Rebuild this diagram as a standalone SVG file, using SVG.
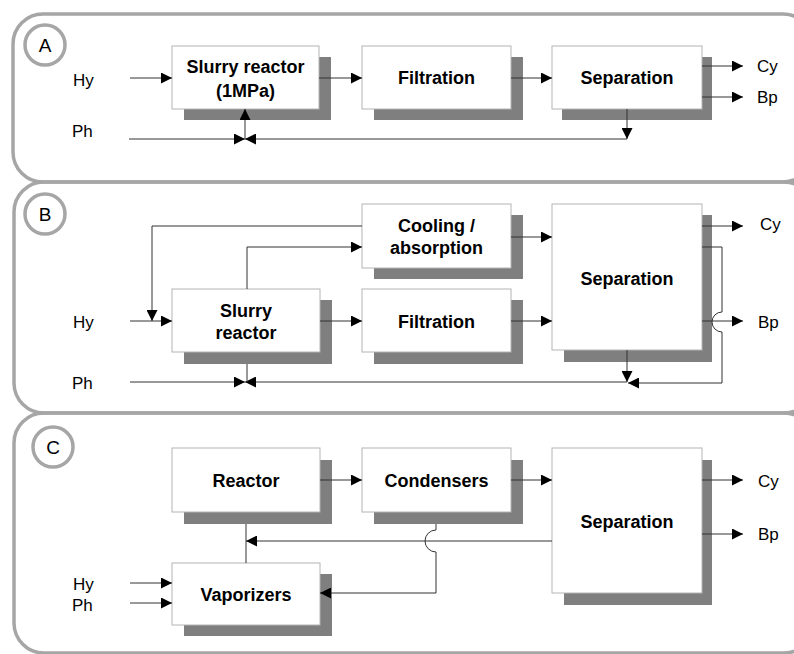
<svg xmlns="http://www.w3.org/2000/svg" width="794" height="654" viewBox="0 0 794 654">
<style>
.panel{fill:none;stroke:#a6a6a6;stroke-width:3.5}
.badge{fill:#fff;stroke:#a6a6a6;stroke-width:3.5}
.badge-t{font-family:"Liberation Sans",Arial,sans-serif;font-size:19px;fill:#000;text-anchor:middle}
.shadow{fill:#7f7f7f}
.box{fill:#fff;stroke:#b4b4b4;stroke-width:1}
.bt{font-family:"Liberation Sans",Arial,sans-serif;font-size:18px;font-weight:bold;fill:#000;text-anchor:middle}
.lbl{font-family:"Liberation Sans",Arial,sans-serif;font-size:17px;fill:#000}
.c{fill:none;stroke:#333;stroke-width:1}
.a{marker-end:url(#ah)}
</style>
<defs>
<marker id="ah" markerUnits="userSpaceOnUse" markerWidth="11" markerHeight="11" refX="11" refY="5.5" orient="auto" viewBox="0 0 11 11">
<path d="M0,0 L11,5.5 L0,11 z" fill="#000"/>
</marker>
</defs>
<rect width="794" height="654" fill="#fff"/>

<!-- panels -->
<g id="panelA"><rect class="panel" x="13" y="14" width="800" height="168" rx="30"/><circle class="badge" cx="45" cy="45" r="20"/><text class="badge-t" x="45" y="52">A</text></g>
<g id="panelB"><rect class="panel" x="14" y="182" width="800" height="231" rx="30"/><circle class="badge" cx="45" cy="214" r="20"/><text class="badge-t" x="45" y="221">B</text></g>
<g id="panelC"><rect class="panel" x="14" y="413" width="800" height="240" rx="30"/><circle class="badge" cx="53" cy="447" r="20"/><text class="badge-t" x="53" y="454">C</text></g>

<!-- Panel A nodes -->
<g id="A-slurry"><rect class="shadow" x="184" y="57" width="147" height="63"/><rect class="box" x="172" y="46" width="147" height="63"/><text class="bt" x="245.5" y="73">Slurry reactor</text><text class="bt" x="245.5" y="97">(1MPa)</text></g>
<g id="A-filtration"><rect class="shadow" x="374" y="57" width="149" height="63"/><rect class="box" x="362" y="46" width="149" height="63"/><text class="bt" x="436.5" y="84">Filtration</text></g>
<g id="A-separation"><rect class="shadow" x="562" y="57" width="150" height="63"/><rect class="box" x="552" y="46" width="150" height="63"/><text class="bt" x="627" y="84">Separation</text></g>

<!-- Panel B nodes -->
<g id="B-cooling"><rect class="shadow" x="374" y="215" width="149" height="64"/><rect class="box" x="362" y="204" width="149" height="64"/><text class="bt" x="436.5" y="232">Cooling /</text><text class="bt" x="436.5" y="254">absorption</text></g>
<g id="B-slurry"><rect class="shadow" x="184" y="300" width="148" height="64"/><rect class="box" x="172" y="289" width="148" height="63"/><text class="bt" x="246" y="317">Slurry</text><text class="bt" x="246" y="339">reactor</text></g>
<g id="B-filtration"><rect class="shadow" x="374" y="300" width="149" height="64"/><rect class="box" x="362" y="289" width="149" height="63"/><text class="bt" x="436.5" y="328">Filtration</text></g>
<g id="B-separation"><rect class="shadow" x="564" y="215" width="148" height="147"/><rect class="box" x="552" y="204" width="150" height="146"/><text class="bt" x="627" y="285">Separation</text></g>

<!-- Panel C nodes -->
<g id="C-reactor"><rect class="shadow" x="184" y="460" width="148" height="64"/><rect class="box" x="172" y="448" width="148" height="64"/><text class="bt" x="246" y="487">Reactor</text></g>
<g id="C-condensers"><rect class="shadow" x="374" y="460" width="149" height="64"/><rect class="box" x="362" y="448" width="149" height="64"/><text class="bt" x="436.5" y="487">Condensers</text></g>
<g id="C-separation"><rect class="shadow" x="564" y="460" width="148" height="145"/><rect class="box" x="552" y="448" width="150" height="145"/><text class="bt" x="627" y="528">Separation</text></g>
<g id="C-vaporizers"><rect class="shadow" x="184" y="574" width="148" height="62"/><rect class="box" x="172" y="563" width="148" height="62"/><text class="bt" x="246" y="601">Vaporizers</text></g>

<!-- labels -->
<g id="labels">
<text class="lbl" x="73" y="86">Hy</text><text class="lbl" x="72" y="137">Ph</text>
<text class="lbl" x="757" y="72">Cy</text><text class="lbl" x="757" y="103">Bp</text>
<text class="lbl" x="73" y="328">Hy</text><text class="lbl" x="72" y="389">Ph</text>
<text class="lbl" x="760" y="230">Cy</text><text class="lbl" x="758" y="328">Bp</text>
<text class="lbl" x="73" y="590">Hy</text><text class="lbl" x="72" y="611">Ph</text>
<text class="lbl" x="758" y="487">Cy</text><text class="lbl" x="758" y="540">Bp</text>
</g>

<!-- connectors -->
<g id="connectors">
<!-- A -->
<path class="c a" d="M130,78 H172"/>
<path class="c a" d="M319,78 H362"/>
<path class="c a" d="M511,78 H552"/>
<path class="c a" d="M702,66 H743"/>
<path class="c a" d="M702,97 H743"/>
<path class="c a" d="M627,109 V139"/>
<path class="c a" d="M627,139 H245"/>
<path class="c a" d="M129,139 H245"/>
<path class="c a" d="M245,139 V109"/>
<!-- B -->
<path class="c a" d="M362,226 H152 V321"/>
<path class="c a" d="M247,289 V247 H362"/>
<path class="c a" d="M130,321 H172"/>
<path class="c a" d="M320,321 H362"/>
<path class="c a" d="M511,237 H552"/>
<path class="c a" d="M511,321 H552"/>
<path class="c a" d="M702,226 H743"/>
<path class="c a" d="M702,321 H743"/>
<path class="c a" d="M627,350 V382"/>
<path class="c a" d="M702,247 H722 V312 A10,10 0 0 0 722,332 V383 H628"/>
<path class="c a" d="M627,382 H245"/>
<path class="c a" d="M130,382 H245"/>
<path class="c" d="M247,364 V382"/>
<!-- C -->
<path class="c a" d="M320,480 H362"/>
<path class="c a" d="M511,480 H552"/>
<path class="c a" d="M702,480 H743"/>
<path class="c a" d="M702,534 H743"/>
<path class="c a" d="M552,541 H246"/>
<path class="c" d="M246,524 V563"/>
<path class="c a" d="M436,524 V530 A11,11 0 0 0 436,552 V593 H320"/>
<path class="c a" d="M130,583 H172"/>
<path class="c a" d="M130,603 H172"/>
</g>
</svg>
